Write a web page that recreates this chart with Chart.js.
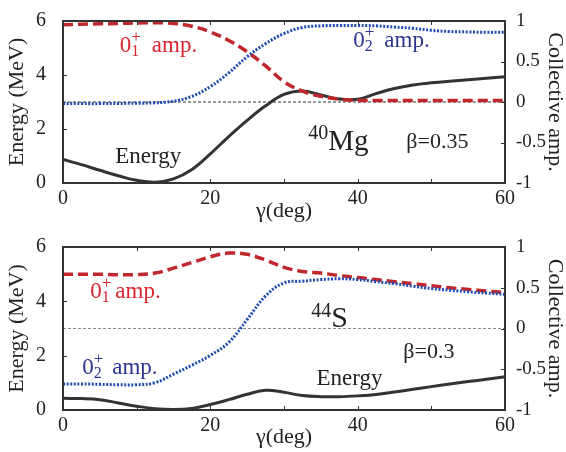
<!DOCTYPE html>
<html>
<head>
<meta charset="utf-8">
<script src="https://cdn.jsdelivr.net/npm/chart.js@4/dist/chart.umd.min.js"></script>
<style>
  body { margin: 0; background: #fff; }
  .panel { position: absolute; left: 0; width: 566px; height: 226px; }
</style>
</head>
<body>
<div class="panel" style="top:0"><canvas id="mg40" width="566" height="226"></canvas></div>
<div class="panel" style="top:226px"><canvas id="s44" width="566" height="226"></canvas></div>
<script>
// gamma (deg) grid shared by both panels
const gamma = [0, 2.5, 5, 7.5, 10, 12.5, 15, 17.5, 20, 22.5, 25, 27.5, 30,
               32.5, 35, 37.5, 40, 42.5, 45, 47.5, 50, 52.5, 55, 57.5, 60];

// 40Mg, beta = 0.35
const mgEnergy = [0.87, 0.68, 0.47, 0.27, 0.10, 0.03, 0.15, 0.50, 1.08, 1.72, 2.32, 2.86, 3.28,
                  3.41, 3.26, 3.11, 3.10, 3.31, 3.50, 3.63, 3.71, 3.77, 3.82, 3.88, 3.94];
const mgAmp1   = [0.955, 0.96, 0.965, 0.97, 0.975, 0.978, 0.97, 0.935, 0.865, 0.76, 0.62, 0.445, 0.25,
                  0.135, 0.07, 0.035, 0.02, 0.02, 0.02, 0.02, 0.02, 0.02, 0.02, 0.02, 0.02];
const mgAmp2   = [-0.02, -0.02, -0.02, -0.018, -0.015, -0.01, 0.01, 0.07, 0.19, 0.36, 0.56, 0.72, 0.845,
                  0.92, 0.94, 0.945, 0.945, 0.94, 0.925, 0.91, 0.885, 0.87, 0.865, 0.86, 0.86];

// 44S, beta = 0.3
const sEnergy = [0.43, 0.42, 0.38, 0.26, 0.14, 0.05, 0.02, 0.06, 0.20, 0.38, 0.58, 0.73, 0.65,
                 0.53, 0.49, 0.49, 0.52, 0.57, 0.66, 0.76, 0.86, 0.96, 1.05, 1.13, 1.22];
const sAmp1   = [0.665, 0.665, 0.665, 0.66, 0.66, 0.68, 0.74, 0.81, 0.88, 0.925, 0.91, 0.84, 0.75,
                 0.70, 0.68, 0.65, 0.625, 0.60, 0.575, 0.55, 0.525, 0.50, 0.48, 0.46, 0.44];
const sAmp2   = [-0.68, -0.68, -0.685, -0.69, -0.69, -0.665, -0.56, -0.45, -0.33, -0.17, 0.11, 0.40, 0.56,
                 0.58, 0.60, 0.61, 0.60, 0.575, 0.55, 0.52, 0.49, 0.47, 0.45, 0.435, 0.42];

// tick labels
const gammaTicks = [0, 20, 40, 60];
const energyTicks = [0, 2, 4, 6];
const ampTicks = [-1, -0.5, 0, 0.5, 1];

const SERIF = "'Liberation Serif', 'Times New Roman', serif";
Chart.defaults.font.family = SERIF;
Chart.defaults.color = '#222';

const RED_LINE = '#c0272d', BLUE_LINE = '#1c4cb2', BLACK_LINE = '#333';
const RED_TEXT = '#d9252e', BLUE_TEXT = '#2b3590';

function pts(ys) {
  return gamma.map((g, i) => ({ x: g, y: ys[i] }));
}

// box around plot + inward ticks, matlab style
const frameTicks = {
  id: 'frameTicks',
  afterDatasetsDraw(chart) {
    const { ctx, chartArea: a, scales } = chart;
    const L = 4;
    ctx.save();
    ctx.strokeStyle = '#333';
    ctx.lineWidth = 1;
    ctx.beginPath();
    scales.x.ticks.forEach(t => {
      const px = Math.round(scales.x.getPixelForValue(t.value)) + 0.5;
      ctx.moveTo(px, a.bottom); ctx.lineTo(px, a.bottom - L);
      ctx.moveTo(px, a.top); ctx.lineTo(px, a.top + L);
    });
    scales.y.ticks.forEach(t => {
      const py = Math.round(scales.y.getPixelForValue(t.value)) + 0.5;
      ctx.moveTo(a.left, py); ctx.lineTo(a.left + L, py);
    });
    scales.y1.ticks.forEach(t => {
      const py = Math.round(scales.y1.getPixelForValue(t.value)) + 0.5;
      ctx.moveTo(a.right, py); ctx.lineTo(a.right - L, py);
    });
    ctx.stroke();
    ctx.lineWidth = 2;
    ctx.strokeRect(a.left, a.top, a.right - a.left, a.bottom - a.top);
    ctx.restore();
  }
};

// text annotations with sub/superscripts, placed in (gamma, energy) coords
const textMarks = {
  id: 'textMarks',
  afterDatasetsDraw(chart, args, opts) {
    const { ctx, scales } = chart;
    ctx.save();
    ctx.textBaseline = 'alphabetic';
    ctx.textAlign = 'left';
    (opts.items || []).forEach(item => {
      let cx = scales.x.getPixelForValue(item.x);
      const by = scales.y.getPixelForValue(item.y);
      let held = 0;
      ctx.fillStyle = item.color;
      item.pieces.forEach(p => {
        ctx.font = p.s + 'px ' + SERIF;
        const x0 = cx + (p.dx || 0);
        ctx.fillText(p.t, x0, by + (p.dy || 0));
        const w = ctx.measureText(p.t).width;
        if (p.hold) { held = w; }
        else { cx = x0 + Math.max(w, held); held = 0; }
      });
    });
    ctx.restore();
  }
};

function ampLabel(x, y, sub, color, gap) {
  return {
    x, y, color, pieces: [
      { t: '0', s: 23 },
      { t: sub, s: 16, dy: 4, hold: true },
      { t: '+', s: 17, dy: -10 },
      { t: 'amp.', s: 23, dx: gap }
    ]
  };
}

function makeChart(id, energy, amp1, amp2, opt) {
  return new Chart(document.getElementById(id), {
    type: 'line',
    data: {
      datasets: [
        {
          label: 'zero',
          data: [{ x: gamma[0], y: 0 }, { x: gamma[gamma.length - 1], y: 0 }],
          yAxisID: 'y1',
          borderColor: opt.zeroColor,
          borderWidth: 1,
          borderDash: [3, 2],
          pointRadius: 0,
          order: 4
        },
        {
          label: 'Energy',
          data: pts(energy),
          yAxisID: 'y',
          borderColor: BLACK_LINE,
          borderWidth: 3,
          pointRadius: 0,
          tension: 0.4,
          order: 3
        },
        {
          label: '0+1 amp.',
          data: pts(amp1),
          yAxisID: 'y1',
          borderColor: RED_LINE,
          borderWidth: 3.5,
          borderDash: [10, 5],
          pointRadius: 0,
          tension: 0.4,
          order: 2
        },
        {
          label: '0+2 amp.',
          data: pts(amp2),
          yAxisID: 'y1',
          borderColor: BLUE_LINE,
          borderWidth: 3,
          borderDash: [2, 1.6],
          pointRadius: 0,
          tension: 0.4,
          order: 1
        }
      ]
    },
    options: {
      responsive: false,
      animation: false,
      layout: { padding: { top: opt.top, left: 0, right: 0, bottom: 0 } },
      plugins: {
        legend: { display: false },
        tooltip: { enabled: false },
        textMarks: { items: opt.marks }
      },
      scales: {
        x: {
          type: 'linear',
          min: 0, max: 60,
          grid: { display: false },
          border: { display: false },
          ticks: {
            stepSize: 10,
            padding: -4,
            maxRotation: 0,
            font: { size: 20 },
            callback: v => gammaTicks.includes(v) ? String(v) : ''
          },
          title: { display: true, text: 'γ(deg)', font: { size: 22 }, padding: { top: 0, bottom: 2 } },
          afterFit: s => { s.height = opt.xh; }
        },
        y: {
          position: 'left',
          min: 0, max: 6,
          grid: { display: false },
          border: { display: false },
          afterBuildTicks: s => { s.ticks = energyTicks.map(v => ({ value: v })); },
          ticks: { padding: 9, font: { size: 20 }, callback: v => String(v) },
          title: { display: true, text: 'Energy (MeV)', font: { size: 22 }, padding: { top: 4, bottom: 0 } },
          afterFit: s => { s.width = 63; }
        },
        y1: {
          position: 'right',
          min: -1, max: 1,
          grid: { display: false },
          border: { display: false },
          afterBuildTicks: s => { s.ticks = ampTicks.map(v => ({ value: v })); },
          ticks: { padding: 3, font: { size: 19 }, callback: v => String(v) },
          title: { display: true, text: 'Collective amp.', font: { size: 22, lineHeight: 1.0 }, padding: { top: 0, bottom: 0 } },
          afterFit: s => { s.width = 61; }
        }
      }
    },
    plugins: [frameTicks, textMarks]
  });
}

makeChart('mg40', mgEnergy, mgAmp1, mgAmp2, {
  top: 13, xh: 43, zeroColor: '#333',
  marks: [
    ampLabel(7.7, 4.87, '1', RED_TEXT, 11),
    ampLabel(39.4, 5.05, '2', BLUE_TEXT, 10),
    { x: 7.1, y: 0.74, color: '#222', pieces: [{ t: 'Energy', s: 23 }] },
    { x: 33.3, y: 1.24, color: '#222', pieces: [{ t: '40', s: 20, dy: -11 }, { t: 'Mg', s: 29 }] },
    { x: 46.6, y: 1.31, color: '#222', pieces: [{ t: 'β=0.35', s: 22 }] }
  ]
});

makeChart('s44', sEnergy, sAmp1, sAmp2, {
  top: 14, xh: 42, zeroColor: '#888',
  marks: [
    ampLabel(3.7, 4.13, '1', RED_TEXT, 4),
    ampLabel(2.6, 1.31, '2', BLUE_TEXT, 9),
    { x: 34.4, y: 0.92, color: '#222', pieces: [{ t: 'Energy', s: 23 }] },
    { x: 33.7, y: 3.07, color: '#222', pieces: [{ t: '44', s: 20, dy: -10 }, { t: 'S', s: 30 }] },
    { x: 46.2, y: 1.91, color: '#222', pieces: [{ t: 'β=0.3', s: 22 }] }
  ]
});
</script>
</body>
</html>
